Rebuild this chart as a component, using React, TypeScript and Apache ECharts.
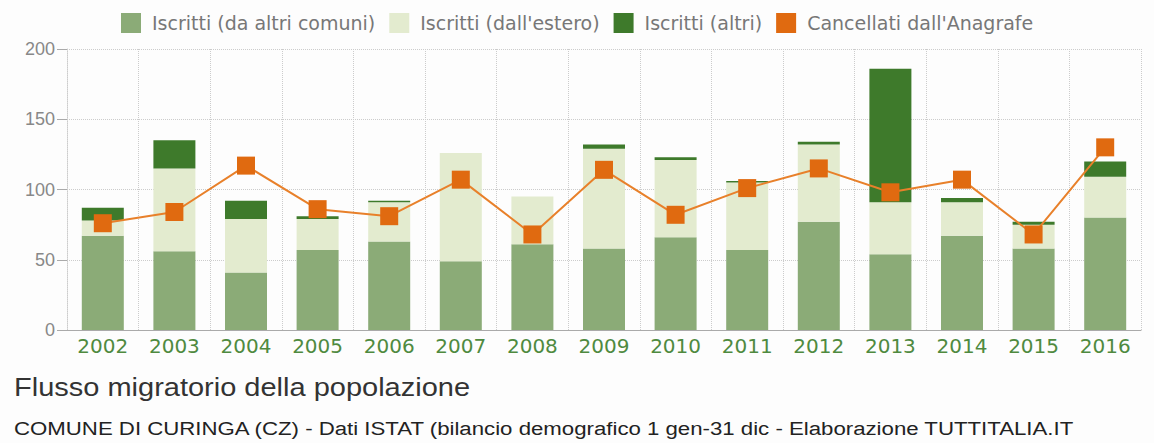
import React, { useEffect, useRef } from "react";
import * as echarts from "echarts";

const years = ["2002","2003","2004","2005","2006","2007","2008","2009","2010","2011","2012","2013","2014","2015","2016"];
const daAltriComuni = [67, 56, 41, 57, 63, 49, 61, 58, 66, 57, 77, 54, 67, 58, 80];
const dallEstero = [11, 59, 38, 22, 28, 77, 34, 71, 55, 48, 55, 37, 24, 17, 29];
const altri = [9, 20, 13, 2, 1, 0, 0, 3, 2, 1, 2, 95, 3, 2, 11];
const cancellati = [76, 84, 117, 86, 81, 107, 68, 114, 82, 101, 115, 98, 107, 68, 130];
const yTicks = { min: 0, max: 200, interval: 50 };

export default function App() {
  const ref = useRef<HTMLDivElement>(null);
  useEffect(() => {
    document.body.style.margin = "0";
    const chart = echarts.init(ref.current!, null, { renderer: "svg" });
    const font = "Liberation Sans, Arial, sans-serif";
    const wide = "DejaVu Sans, sans-serif";
    chart.setOption({
      animation: false,
      backgroundColor: "#fdfdfd",
      textStyle: { fontFamily: font },
      legend: {
        top: 8,
        left: 116,
        itemWidth: 20,
        itemHeight: 20,
        itemGap: 14,
        textStyle: { fontSize: 19, color: "#777", fontFamily: wide, padding: [0, 0, 0, 6] },
        data: [
          { name: "Iscritti (da altri comuni)", icon: "rect" },
          { name: "Iscritti (dall'estero)", icon: "rect" },
          { name: "Iscritti (altri)", icon: "rect" },
          { name: "Cancellati dall'Anagrafe", icon: "rect" },
        ],
      },
      grid: { left: 67, right: 13, top: 49, bottom: 113 },
      xAxis: {
        type: "category",
        data: years,
        boundaryGap: true,
        axisLine: { lineStyle: { color: "#aaa" } },
        axisTick: { show: false },
        axisLabel: { color: "#4f8a3f", fontSize: 20, margin: 6, fontFamily: wide },
        splitLine: { show: true, lineStyle: { color: "#ccc", type: "dotted" } },
      },
      yAxis: {
        type: "value",
        min: yTicks.min,
        max: yTicks.max,
        interval: yTicks.interval,
        axisLine: { show: true, lineStyle: { color: "#ccc", type: "dotted" } },
        axisTick: { show: true, length: 10, lineStyle: { color: "#aaa" } },
        axisLabel: { color: "#888", fontSize: 18, margin: 12, fontFamily: font },
        splitLine: { lineStyle: { color: "#ccc", type: "dotted" } },
      },
      series: [
        {
          name: "Iscritti (da altri comuni)",
          type: "bar",
          stack: "isc",
          data: daAltriComuni,
          barWidth: 42,
          itemStyle: { color: "#8bab77" },
        },
        {
          name: "Iscritti (dall'estero)",
          type: "bar",
          stack: "isc",
          data: dallEstero,
          barWidth: 42,
          itemStyle: { color: "#e3ebcf" },
        },
        {
          name: "Iscritti (altri)",
          type: "bar",
          stack: "isc",
          data: altri,
          barWidth: 42,
          itemStyle: { color: "#3e7a2b" },
        },
        {
          name: "Cancellati dall'Anagrafe",
          type: "line",
          data: cancellati,
          symbol: "rect",
          symbolSize: 18,
          lineStyle: { color: "#e8802a", width: 2 },
          itemStyle: { color: "#e06a10" },
          z: 5,
        },
      ],
      graphic: [
        {
          type: "text",
          x: 14,
          y: 387,
          scaleX: 1.16,
          style: {
            text: "Flusso migratorio della popolazione",
            fontSize: 25,
            fill: "#333",
            fontFamily: font,
            verticalAlign: "middle",
          },
        },
        {
          type: "text",
          x: 14,
          y: 428,
          scaleX: 1.17,
          style: {
            text: "COMUNE DI CURINGA (CZ) - Dati ISTAT (bilancio demografico 1 gen-31 dic - Elaborazione TUTTITALIA.IT",
            fontSize: 19,
            fill: "#222",
            fontFamily: font,
            verticalAlign: "middle",
          },
        },
      ],
    });
    return () => chart.dispose();
  }, []);
  return <div ref={ref} style={{ width: 1154, height: 443 }} />;
}
